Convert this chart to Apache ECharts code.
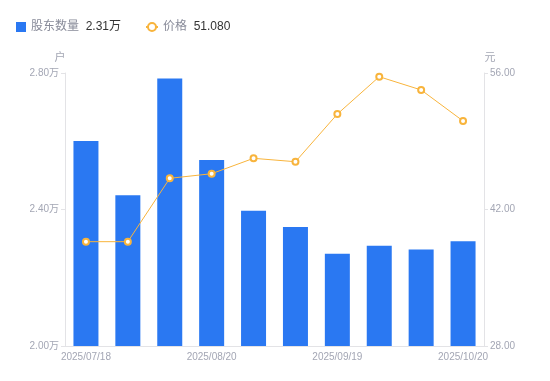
<!DOCTYPE html>
<html><head><meta charset="utf-8">
<script src="https://cdn.jsdelivr.net/npm/echarts@6/dist/echarts.min.js"></script>
<style>html,body{margin:0;padding:0;background:#fff}#c{width:550px;height:381px}</style>
</head><body><div id="c"></div>
<script>
const categories = ['2025/07/18','2025/07/31','2025/08/10','2025/08/20','2025/08/31','2025/09/10','2025/09/19','2025/09/30','2025/10/10','2025/10/20'];
const holders = [26010, 24420, 27840, 25450, 23960, 23490, 22700, 22940, 22830, 23070];
const prices = [38.70, 38.70, 45.20, 45.67, 47.25, 46.90, 51.79, 55.62, 54.26, 51.08];
const seriesNames = ['股东数量', '价格'];
const legendValues = {'股东数量': '2.31万', '价格': '51.080'};

const chart = echarts.init(document.getElementById('c'));
const labelColor = '#a3a6b4';
const font = '"Liberation Sans", "Noto Sans CJK SC", sans-serif';
const legendText = {rich: {n: {color: '#888b99', fontSize: 12, fontFamily: font}, v: {color: '#333', fontSize: 12, fontFamily: font}}};
const fmt = n => '{n|' + n + '}  {v|' + legendValues[n] + '}';
chart.setOption({
  animation: false,
  textStyle: {fontFamily: font},
  legend: [{
    left: 16, top: 21, padding: 0, itemWidth: 10, itemHeight: 10, itemGap: 5,
    data: [{name: seriesNames[0], icon: 'rect'}],
    formatter: fmt, textStyle: legendText
  }, {
    left: 145, top: 21, padding: 0, itemWidth: 12, itemHeight: 10,
    data: [{name: seriesNames[1]}],
    formatter: fmt, textStyle: legendText
  }],
  grid: {left: 65, right: 66, top: 73, bottom: 35},
  xAxis: {
    type: 'category', data: categories,
    axisLine: {lineStyle: {color: '#e3e3e6'}},
    axisTick: {show: false},
    axisLabel: {interval: 2, color: labelColor, fontSize: 10, margin: 6}
  },
  yAxis: [{
    type: 'value', name: '户', min: 20000, max: 28000, interval: 4000,
    nameTextStyle: {color: labelColor, fontSize: 11, padding: [0, 0, 0, -10]},
    nameGap: 10,
    axisLine: {show: true, lineStyle: {color: '#e3e3e6'}},
    axisTick: {show: true, length: 4, lineStyle: {color: '#e3e3e6'}},
    splitLine: {show: false},
    axisLabel: {color: labelColor, fontSize: 10, margin: 6, formatter: v => (v / 10000).toFixed(2) + '万'}
  }, {
    type: 'value', name: '元', min: 28, max: 56, interval: 14,
    nameTextStyle: {color: labelColor, fontSize: 11, padding: [0, 0, 0, 12]},
    nameGap: 10,
    axisLine: {show: true, lineStyle: {color: '#e3e3e6'}},
    axisTick: {show: true, length: 4, lineStyle: {color: '#e3e3e6'}},
    splitLine: {show: false},
    axisLabel: {color: labelColor, fontSize: 10, margin: 6, formatter: v => v.toFixed(2)}
  }],
  series: [{
    name: seriesNames[0], type: 'bar', data: holders, barWidth: 25,
    itemStyle: {color: '#2a78f2'}
  }, {
    name: seriesNames[1], type: 'line', yAxisIndex: 1, data: prices,
    symbol: 'emptyCircle', symbolSize: 6,
    lineStyle: {color: '#f8b43c', width: 1},
    itemStyle: {color: '#f8b43c', borderWidth: 2}
  }]
});
</script></body></html>
